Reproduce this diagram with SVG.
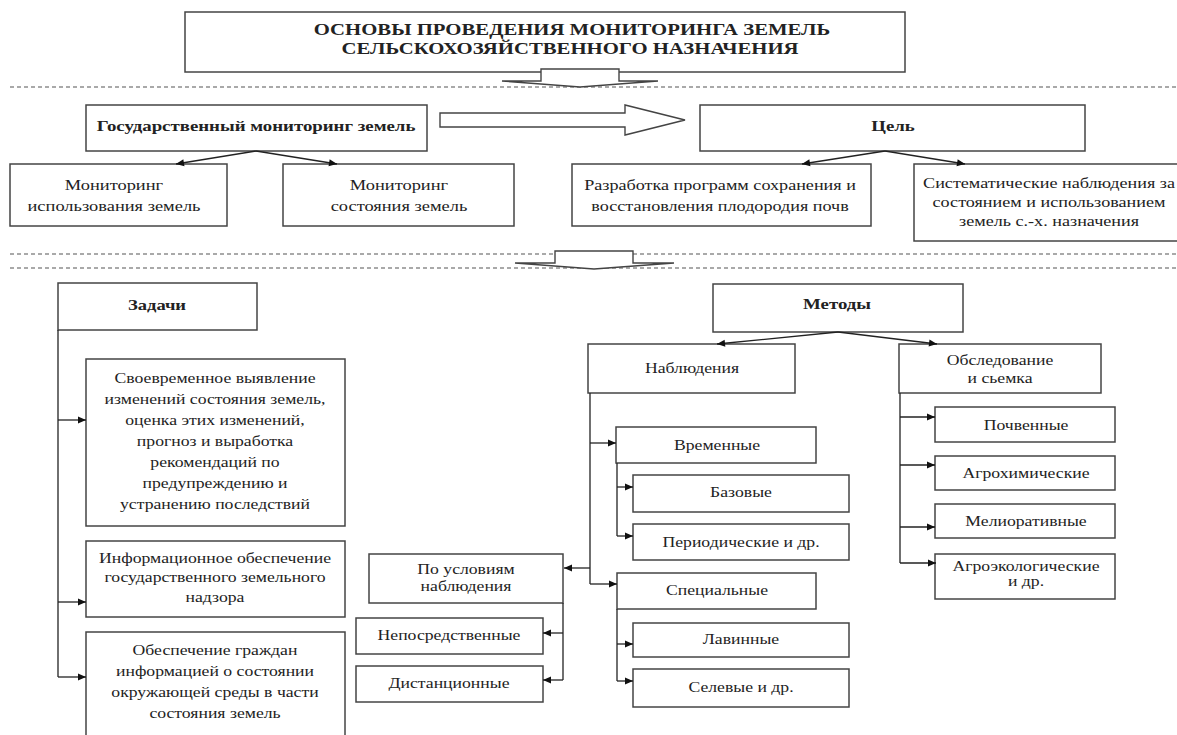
<svg xmlns="http://www.w3.org/2000/svg" width="1177" height="735" viewBox="0 0 1177 735">
<defs>
<style>
.box{fill:#fff;stroke:#444;stroke-width:1.5}
.ln{fill:none;stroke:#222;stroke-width:1.3}
.dash{fill:none;stroke:#555;stroke-width:1.2;stroke-dasharray:4 3}
.blk{fill:#fff;stroke:#444;stroke-width:1.4}
.t{font-family:"Liberation Serif","Times New Roman",serif;font-size:14.5px;fill:#222;text-anchor:middle}
.b{font-weight:bold}
.h{font-size:17px}
</style>
<marker id="ah" viewBox="0 0 10 10" refX="10" refY="5" markerWidth="9" markerHeight="8" markerUnits="userSpaceOnUse" orient="auto">
<path d="M0,0.5 L10,5 L0,9.5 z" fill="#111"/>
</marker>
</defs>
<rect width="1177" height="735" fill="#fff"/>

<!-- separators -->
<g id="separators">
<line class="dash" x1="10" y1="87" x2="1177" y2="87"/>
<line class="dash" x1="10" y1="254" x2="1177" y2="254"/>
<line class="dash" x1="10" y1="268" x2="1177" y2="268"/>
</g>

<g id="title">
<rect class="box" x="185" y="12" width="720" height="60"/>
<text class="t b h" transform="translate(572,35) scale(1.22,1)">ОСНОВЫ ПРОВЕДЕНИЯ МОНИТОРИНГА ЗЕМЕЛЬ</text>
<text class="t b h" transform="translate(570,54) scale(1.22,1)">СЕЛЬСКОХОЗЯЙСТВЕННОГО НАЗНАЧЕНИЯ</text>
</g>

<g id="block-arrows">
<polygon class="blk" points="541,69 619,69 619,81 658,81 580,87 502,81 541,81"/>
<polygon class="blk" points="555,251 633,251 633,263 674,263 594,269 515,263 555,263"/>
<polygon class="blk" points="440,113 625,113 625,105 685,120 625,135 625,127 440,127"/>
</g>

<g id="gos">
<rect class="box" x="86" y="105" width="341" height="46"/>
<text class="t b" transform="translate(256,131) scale(1.3,1)">Государственный мониторинг земель</text>
</g>
<g id="cel">
<rect class="box" x="700" y="105" width="385" height="46"/>
<text class="t b" transform="translate(893,131) scale(1.3,1)">Цель</text>
</g>

<g id="mon-isp">
<rect class="box" x="10" y="164" width="217" height="62"/>
<text class="t" transform="translate(114,190) scale(1.27,1)">Мониторинг<tspan x="0" dy="21">использования земель</tspan></text>
</g>
<g id="mon-sost">
<rect class="box" x="283" y="164" width="231" height="62"/>
<text class="t" transform="translate(399,190) scale(1.27,1)">Мониторинг<tspan x="0" dy="21">состояния земель</tspan></text>
</g>
<g id="razrabotka">
<rect class="box" x="572" y="164" width="299" height="62"/>
<text class="t" transform="translate(720,190) scale(1.25,1)">Разработка программ сохранения и<tspan x="0" dy="21">восстановления плодородия почв</tspan></text>
</g>
<g id="sistem">
<rect class="box" x="914" y="164" width="270" height="77"/>
<text class="t" transform="translate(1049,188) scale(1.25,1)">Систематические наблюдения за<tspan x="0" dy="19">состоянием и использованием</tspan><tspan x="0" dy="19">земель с.-х. назначения</tspan></text>
</g>

<g id="zadachi">
<rect class="box" x="58" y="283" width="199" height="47"/>
<text class="t b" transform="translate(157,310) scale(1.28,1)">Задачи</text>
</g>
<g id="task1">
<rect class="box" x="86" y="359" width="259" height="167"/>
<text class="t" transform="translate(215,383) scale(1.22,1)">Своевременное выявление<tspan x="0" dy="21">изменений состояния земель,</tspan><tspan x="0" dy="21">оценка этих изменений,</tspan><tspan x="0" dy="21">прогноз и выработка</tspan><tspan x="0" dy="21">рекомендаций по</tspan><tspan x="0" dy="21">предупреждению и</tspan><tspan x="0" dy="21">устранению последствий</tspan></text>
</g>
<g id="task2">
<rect class="box" x="86" y="541" width="259" height="76"/>
<text class="t" transform="translate(215,563) scale(1.22,1)">Информационное обеспечение<tspan x="0" dy="19.5">государственного земельного</tspan><tspan x="0" dy="19.5">надзора</tspan></text>
</g>
<g id="task3">
<rect class="box" x="86" y="632" width="259" height="110"/>
<text class="t" transform="translate(215,655) scale(1.22,1)">Обеспечение граждан<tspan x="0" dy="21">информацией о состоянии</tspan><tspan x="0" dy="21">окружающей среды в части</tspan><tspan x="0" dy="21">состояния земель</tspan></text>
</g>

<g id="metody">
<rect class="box" x="713" y="284" width="250" height="48"/>
<text class="t b" transform="translate(837,309) scale(1.3,1)">Методы</text>
</g>
<g id="nablyudeniya">
<rect class="box" x="588" y="344" width="207" height="49"/>
<text class="t" transform="translate(692,373) scale(1.22,1)">Наблюдения</text>
</g>
<g id="obsledovanie">
<rect class="box" x="899" y="344" width="202" height="49"/>
<text class="t" transform="translate(1000,365) scale(1.22,1)">Обследование<tspan x="0" dy="18">и сьемка</tspan></text>
</g>
<g id="pochvennye">
<rect class="box" x="935" y="407" width="180" height="35"/>
<text class="t" transform="translate(1026,430) scale(1.22,1)">Почвенные</text>
</g>
<g id="agrohim">
<rect class="box" x="935" y="456" width="180" height="34"/>
<text class="t" transform="translate(1026,478) scale(1.22,1)">Агрохимические</text>
</g>
<g id="meliorativ">
<rect class="box" x="935" y="504" width="180" height="34"/>
<text class="t" transform="translate(1026,526) scale(1.22,1)">Мелиоративные</text>
</g>
<g id="agroekolog">
<rect class="box" x="935" y="554" width="180" height="45"/>
<text class="t" transform="translate(1026,571) scale(1.22,1)">Агроэкологические<tspan x="0" dy="15">и др.</tspan></text>
</g>

<g id="vremennye">
<rect class="box" x="616" y="427" width="200" height="36"/>
<text class="t" transform="translate(717,450) scale(1.22,1)">Временные</text>
</g>
<g id="bazovye">
<rect class="box" x="633" y="475" width="216" height="37"/>
<text class="t" transform="translate(741,497) scale(1.22,1)">Базовые</text>
</g>
<g id="periodicheskie">
<rect class="box" x="633" y="524" width="216" height="36"/>
<text class="t" transform="translate(741,547) scale(1.22,1)">Периодические и др.</text>
</g>
<g id="specialnye">
<rect class="box" x="617" y="573" width="199" height="36"/>
<text class="t" transform="translate(717,595) scale(1.22,1)">Специальные</text>
</g>
<g id="lavinnye">
<rect class="box" x="633" y="623" width="216" height="34"/>
<text class="t" transform="translate(741,644) scale(1.22,1)">Лавинные</text>
</g>
<g id="selevye">
<rect class="box" x="633" y="669" width="216" height="38"/>
<text class="t" transform="translate(741,692) scale(1.22,1)">Селевые и др.</text>
</g>
<g id="po-usloviyam">
<rect class="box" x="369" y="554" width="194" height="49"/>
<text class="t" transform="translate(466,574) scale(1.22,1)">По условиям<tspan x="0" dy="17">наблюдения</tspan></text>
</g>
<g id="neposredstvennye">
<rect class="box" x="356" y="618" width="187" height="36"/>
<text class="t" transform="translate(449,640) scale(1.22,1)">Непосредственные</text>
</g>
<g id="distancionnye">
<rect class="box" x="356" y="666" width="187" height="36"/>
<text class="t" transform="translate(449,688) scale(1.22,1)">Дистанционные</text>
</g>

<g id="connectors">
<line class="ln" x1="256" y1="151" x2="176" y2="164" marker-end="url(#ah)"/>
<line class="ln" x1="256" y1="151" x2="337" y2="164" marker-end="url(#ah)"/>
<line class="ln" x1="885" y1="151" x2="802" y2="164" marker-end="url(#ah)"/>
<line class="ln" x1="885" y1="151" x2="965" y2="164" marker-end="url(#ah)"/>

<polyline class="ln" points="58,330 58,677"/>
<line class="ln" x1="58" y1="420" x2="86" y2="420" marker-end="url(#ah)"/>
<line class="ln" x1="58" y1="602" x2="86" y2="602" marker-end="url(#ah)"/>
<line class="ln" x1="58" y1="677" x2="86" y2="677" marker-end="url(#ah)"/>

<line class="ln" x1="838" y1="332" x2="717" y2="344" marker-end="url(#ah)"/>
<line class="ln" x1="838" y1="332" x2="937" y2="344" marker-end="url(#ah)"/>

<polyline class="ln" points="900,393 900,563"/>
<line class="ln" x1="900" y1="417" x2="935" y2="417" marker-end="url(#ah)"/>
<line class="ln" x1="900" y1="465" x2="935" y2="465" marker-end="url(#ah)"/>
<line class="ln" x1="900" y1="527" x2="935" y2="527" marker-end="url(#ah)"/>
<line class="ln" x1="900" y1="563" x2="936" y2="563" marker-end="url(#ah)"/>

<polyline class="ln" points="590,393 590,584"/>
<line class="ln" x1="590" y1="443" x2="616" y2="443" marker-end="url(#ah)"/>
<line class="ln" x1="590" y1="584" x2="617" y2="584" marker-end="url(#ah)"/>
<line class="ln" x1="590" y1="568" x2="564" y2="568" marker-end="url(#ah)"/>

<polyline class="ln" points="617,463 617,536"/>
<line class="ln" x1="617" y1="487" x2="633" y2="487" marker-end="url(#ah)"/>
<line class="ln" x1="617" y1="536" x2="633" y2="536" marker-end="url(#ah)"/>

<polyline class="ln" points="617,609 617,681"/>
<line class="ln" x1="617" y1="644" x2="633" y2="644" marker-end="url(#ah)"/>
<line class="ln" x1="617" y1="681" x2="633" y2="681" marker-end="url(#ah)"/>

<polyline class="ln" points="563,603 563,680"/>
<line class="ln" x1="563" y1="633" x2="543" y2="633" marker-end="url(#ah)"/>
<line class="ln" x1="563" y1="680" x2="543" y2="680" marker-end="url(#ah)"/>
</g>
</svg>
